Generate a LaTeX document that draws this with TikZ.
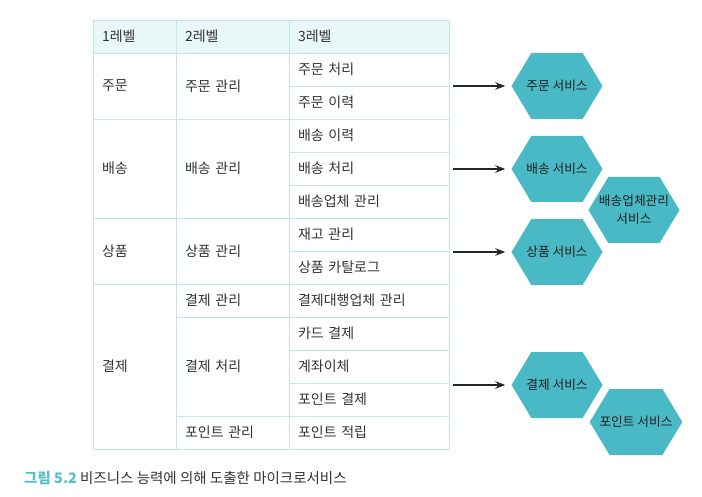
\documentclass[tikz,border=0pt]{standalone}
\usepackage{fontspec}
\setmainfont{Noto Sans CJK KR}
\usepackage{xcolor}
\usepackage{tikz}
\usetikzlibrary{arrows.meta,positioning,shapes.symbols}

\definecolor{gridcyan}{HTML}{BFE6EC}
\definecolor{headcyan}{HTML}{EAF7F9}
\definecolor{hexteal}{HTML}{49BAC5}
\definecolor{captealc}{HTML}{55BDC9}
\definecolor{inkgray}{HTML}{333333}

\tikzset{rows/.style={minimum height={#1*33pt}}}

\begin{document}
\begin{tikzpicture}[
    x=1pt, y=-1pt,
    cell/.style={
      rectangle, draw=gridcyan, line width=0.9pt,
      anchor=north west, align=left, inner xsep=9pt, inner ysep=0pt,
      outer sep=0pt, text=inkgray,
      font=\fontsize{14}{16}\selectfont
    },
    hcell/.style={cell, fill=headcyan, minimum height=33pt},
    w1/.style={text width=65pt},
    w2/.style={text width=95pt},
    w3/.style={text width=142pt},
    svc/.style={
      signal, signal to=east and west, signal pointer angle=118,
      fill=hexteal, draw=none, inner xsep=-10pt, inner ysep=0pt,
      minimum width=91pt, minimum height=66pt,
      align=center, text=black!88,
      font=\fontsize{12.7}{18}\selectfont
    },
    arr/.style={-{Stealth[length=10pt, width=7.5pt]}, line width=1.3pt, black!85, shorten >=6pt},
  ]
  \useasboundingbox (0,0) rectangle (702,497);

  % Header
  \node[hcell, w1] (h1) at (93,20)  {1레벨};
  \node[hcell, w2] (h2) at (176,20) {2레벨};
  \node[hcell, w3] (h3) at (289,20) {3레벨};

  % Level 1
  \node[cell, w1, rows=2] (ord1) at (93,53)  {주문};
  \node[cell, w1, rows=3] (dlv1) at (93,119) {배송};
  \node[cell, w1, rows=2] (prd1) at (93,218) {상품};
  \node[cell, w1, rows=5] (pay1) at (93,284) {결제};

  % Level 2
  \node[cell, w2, rows=2] (ord2)  at (176,53)  {주문 관리};
  \node[cell, w2, rows=3] (dlv2)  at (176,119) {배송 관리};
  \node[cell, w2, rows=2] (prd2)  at (176,218) {상품 관리};
  \node[cell, w2, rows=1] (pay2a) at (176,284) {결제 관리};
  \node[cell, w2, rows=3] (pay2b) at (176,317) {결제 처리};
  \node[cell, w2, rows=1] (pnt2)  at (176,416) {포인트 관리};

  % Level 3
  \node[cell, w3, rows=1] (ord3a) at (289,53)  {주문 처리};
  \node[cell, w3, rows=1] (ord3b) at (289,86)  {주문 이력};
  \node[cell, w3, rows=1] (dlv3a) at (289,119) {배송 이력};
  \node[cell, w3, rows=1] (dlv3b) at (289,152) {배송 처리};
  \node[cell, w3, rows=1] (dlv3c) at (289,185) {배송업체 관리};
  \node[cell, w3, rows=1] (prd3a) at (289,218) {재고 관리};
  \node[cell, w3, rows=1] (prd3b) at (289,251) {상품 카탈로그};
  \node[cell, w3, rows=1] (pay3a) at (289,284) {결제대행업체 관리};
  \node[cell, w3, rows=1] (pay3b) at (289,317) {카드 결제};
  \node[cell, w3, rows=1] (pay3c) at (289,350) {계좌이체};
  \node[cell, w3, rows=1] (pay3d) at (289,383) {포인트 결제};
  \node[cell, w3, rows=1] (pnt3)  at (289,416) {포인트 적립};

  % Services
  \node[svc] (ordsvc) at (557,86)  {주문 서비스};
  \node[svc] (dlvsvc) at (557,169) {배송 서비스};
  \node[svc] (carsvc) at (634,210) {배송업체관리\\서비스};
  \node[svc] (prdsvc) at (557,252) {상품 서비스};
  \node[svc] (paysvc) at (557,385) {결제 서비스};
  \node[svc] (pntsvc) at (636,422) {포인트 서비스};

  % Arrows
  \draw[arr] ([xshift=4pt]ord3a.east |- ordsvc.west) -- (ordsvc.west);
  \draw[arr] ([xshift=4pt]dlv3b.east |- dlvsvc.west) -- (dlvsvc.west);
  \draw[arr] ([xshift=4pt]prd3a.east |- prdsvc.west) -- (prdsvc.west);
  \draw[arr] ([xshift=4pt]pay3c.east |- paysvc.west) -- (paysvc.west);

  % Caption
  \node[anchor=base west, inner sep=0pt, text=inkgray,
        font=\fontsize{14.5}{17}\selectfont] (cap) at (24,483)
    {{\color{captealc}\bfseries 그림 5.2} 비즈니스 능력에 의해 도출한 마이크로서비스};

\end{tikzpicture}
\end{document}
